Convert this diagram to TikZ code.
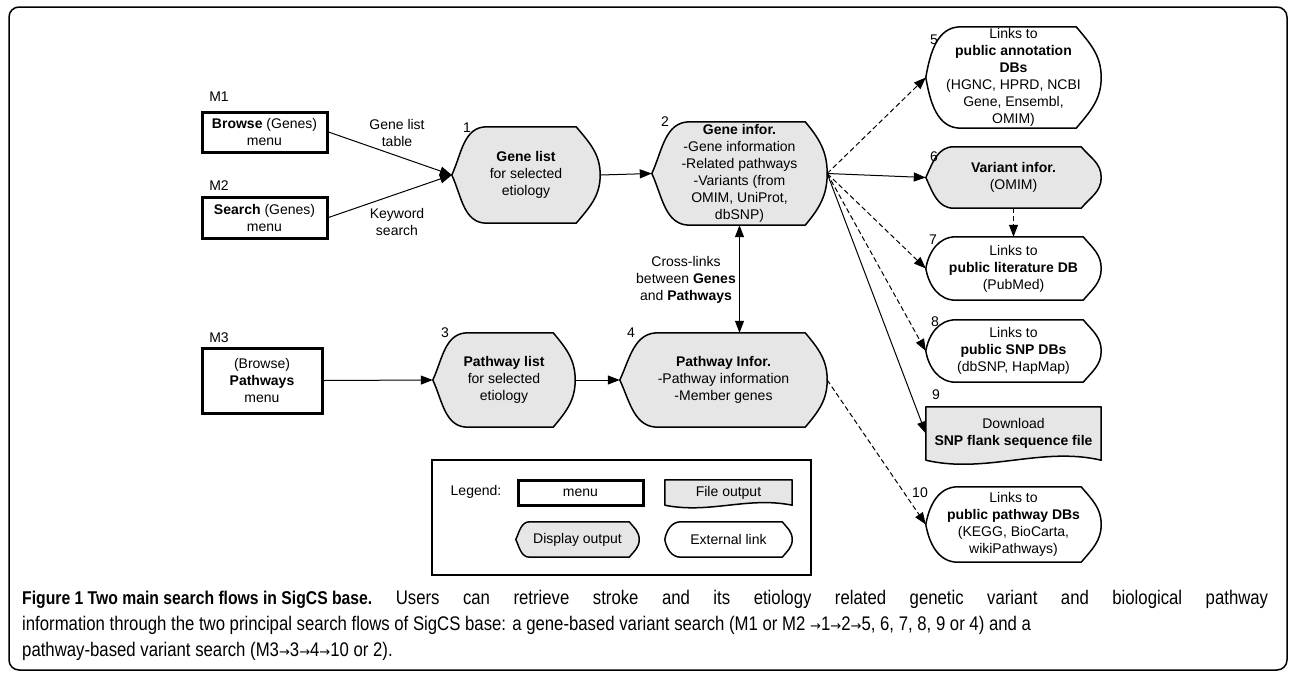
\documentclass[tikz,border=0pt]{standalone}
\usepackage{fontspec}
\setmainfont{Liberation Sans}
\newfontfamily\capfont[FakeStretch=0.85]{Liberation Sans}
\newfontfamily\arrowfont{DejaVu Sans}
\newcommand{\ra}{{\arrowfont\fontsize{13}{26}\selectfont →}}
\usepackage{tikz}
\usetikzlibrary{arrows.meta,backgrounds}
\definecolor{shapegray}{RGB}{230,230,230}

% outline of display output / external link: node, fill, left inset, right inset, left angle
\newcommand{\outshape}[5]{%
  \draw[shapeline,fill=#2] (#1.west) to[out=#5,in=180] ([xshift=#3]#1.north west)
    -- ([xshift=-#4]#1.north east) to[out=-50,in=90] (#1.east)
    to[out=-90,in=50] ([xshift=-#4]#1.south east)
    -- ([xshift=#3]#1.south west) to[out=180,in=-#5] (#1.west) -- cycle;}
% outline of file output: node, wave reach, wave height
\newcommand{\fileshape}[3]{%
  \draw[shapeline,fill=shapegray] (#1.south west) -- (#1.north west) -- (#1.north east)
    -- (#1.south east) .. controls +(-#2,#3) and +(#2,-#3) .. (#1.south west) -- cycle;}

\begin{document}
\begin{tikzpicture}[x=1pt,y=1pt,
  txt/.style={font=\fontsize{14}{17}\selectfont, align=center, inner sep=0pt},
  menubox/.style={txt, draw, line width=3pt},
  outnode/.style={txt},
  num/.style={font=\fontsize{14}{17}\selectfont, inner sep=0pt},
  captext/.style={font=\capfont\fontsize{19.7}{26}\selectfont, inner sep=0pt},
  shapeline/.style={line width=1.5pt, line join=round},
  arr/.style={line width=1pt, -{Triangle[length=12pt,width=9pt]}},
  dasharr/.style={arr, dash pattern=on 5pt off 3pt},
  darr/.style={line width=1pt, {Triangle[length=12pt,width=9pt]}-{Triangle[length=12pt,width=9pt]}}]

\useasboundingbox (0,0) rectangle (1290,-672);
\draw[line width=1.5pt, rounded corners=10pt] (9,-7) rectangle (1287,-670);

% menus
\node[menubox, minimum width=125pt, minimum height=40pt] (m1) at (264.5,-132) {\textbf{Browse} (Genes)\\menu};
\node[menubox, minimum width=125pt, minimum height=41pt] (m2) at (264.5,-217.5) {\textbf{Search} (Genes)\\menu};
\node[menubox, minimum width=120pt, minimum height=65pt] (m3) at (262,-380.5) {(Browse)\\\textbf{Pathways}\\menu};

% outputs
\node[outnode, minimum width=148pt, minimum height=96pt] (gl) at (526,-175) {\textbf{Gene list}\\for selected\\etiology};
\node[outnode, minimum width=175pt, minimum height=103pt] (gi) at (739.5,-173.5) {\textbf{Gene infor.}\\-Gene information\\-Related pathways\\-Variants (from\\OMIM, UniProt,\\dbSNP)};
\node[outnode, minimum width=142pt, minimum height=94pt] (pl) at (504,-380) {\textbf{Pathway list}\\for selected\\etiology};
\node[outnode, minimum width=207pt, minimum height=94pt] (pi) at (723.5,-380) {\textbf{Pathway Infor.}\\-Pathway information\\-Member genes};
\node[outnode, minimum width=175pt, minimum height=101pt] (n5) at (1013.5,-77.5) {Links to\\\textbf{public annotation}\\\textbf{DBs}\\(HGNC, HPRD, NCBI\\Gene, Ensembl,\\OMIM)};
\node[outnode, minimum width=175pt, minimum height=61pt] (n6) at (1013.5,-177.5) {\textbf{Variant infor.}\\(OMIM)};
\node[outnode, minimum width=175pt, minimum height=63pt] (n7) at (1013.5,-268.5) {Links to\\\textbf{public literature DB}\\(PubMed)};
\node[outnode, minimum width=175pt, minimum height=62pt] (n8) at (1013.5,-351) {Links to\\\textbf{public SNP DBs}\\(dbSNP, HapMap)};
\node[outnode, minimum width=175pt, minimum height=53pt] (n9) at (1013.5,-433.5) {Download\\\textbf{SNP flank sequence file}};
\node[outnode, minimum width=175pt, minimum height=75pt] (n10) at (1013.5,-524.5) {Links to\\\textbf{public pathway DBs}\\(KEGG, BioCarta,\\wikiPathways)};

% numbers
\foreach \n/\x/\y in {1/467/128, 2/665/122, 3/445/333, 4/631/333, 5/934/40, 6/934/157, 7/933/240, 8/935/322, 9/936/395, 10/920/493}
  \node[num] (num\n) at (\x,-\y) {\n};
\foreach \m/\y in {M1/97, M2/186, M3/338}
  \node[num] (lab\m) at (219,-\y) {\m};

% arrow labels
\node[txt] (glt) at (397,-133) {Gene list\\table};
\node[txt] (kws) at (397,-222) {Keyword\\search};
\node[txt] (cross) at (686,-280) {Cross-links\\between \textbf{Genes}\\and \textbf{Pathways}};

% arrows
\draw[arr] (m1.east) -- (gl.west);
\draw[arr] (m2.east) -- (gl.west);
\draw[arr] (gl.east) -- (gi.west);
\draw[arr] (m3.east) -- (pl.west);
\draw[arr] (pl.east) -- (pi.west);
\draw[darr] (gi.south) -- (gi.south |- pi.north);
\draw[dasharr] (gi.east) -- (n5.west);
\draw[arr] (gi.east) -- (n6.west);
\draw[dasharr] (gi.east) -- (n7.west);
\draw[dasharr] (gi.east) -- (n8.west);
\draw[arr] (gi.east) -- (n9.west);
\draw[dasharr] (n6.south) -- (n7.north);
\draw[dasharr] (pi.east) -- (n10.west);

% legend
\node[draw, line width=1.5pt, minimum width=379pt, minimum height=115pt] (legbox) at (621.5,-517.5) {};
\node[txt] (legtitle) at (476,-492) {Legend:};
\node[menubox, minimum width=125pt, minimum height=25pt] (legmenu) at (580.5,-492.5) {menu};
\node[outnode, minimum width=127pt, minimum height=25pt] (legfile) at (728.5,-492.5) {File output};
\node[outnode, minimum width=123pt, minimum height=35pt] (legdisp) at (577.5,-539.5) {Display output};
\node[outnode, minimum width=127pt, minimum height=35pt] (legext) at (728.5,-539.5) {External link};

\begin{pgfonlayer}{background}
  \outshape{gl}{shapegray}{35pt}{24pt}{65}
  \outshape{gi}{shapegray}{38pt}{22pt}{65}
  \outshape{pl}{shapegray}{35pt}{22pt}{65}
  \outshape{pi}{shapegray}{38pt}{22pt}{65}
  \outshape{n6}{shapegray}{28pt}{20pt}{65}
  \outshape{legdisp}{shapegray}{14pt}{10pt}{65}
  \outshape{n5}{white}{35pt}{25pt}{80}
  \outshape{n7}{white}{30pt}{18pt}{80}
  \outshape{n8}{white}{30pt}{18pt}{80}
  \outshape{n10}{white}{32pt}{20pt}{80}
  \outshape{legext}{white}{16pt}{10pt}{80}
  \fileshape{n9}{60}{14}
  \fileshape{legfile}{45}{9}
\end{pgfonlayer}

% caption
\node[captext, anchor=base west] (cap1) at (22,-604) {\makebox[1246pt][s]{\mbox{\fontsize{18.5}{26}\selectfont\textbf{Figure 1 Two main search flows in SigCS base.}} Users can retrieve stroke and its etiology related genetic variant and biological pathway}};
\node[captext, anchor=base west] (cap2) at (22,-630) {information through the two principal search flows of SigCS base: a gene-based variant search (M1 or M2 \ra1\ra2\ra5, 6, 7, 8, 9 or 4) and a};
\node[captext, anchor=base west] (cap3) at (22,-656) {pathway-based variant search (M3\ra3\ra4\ra10 or 2).};
\end{tikzpicture}
\end{document}
